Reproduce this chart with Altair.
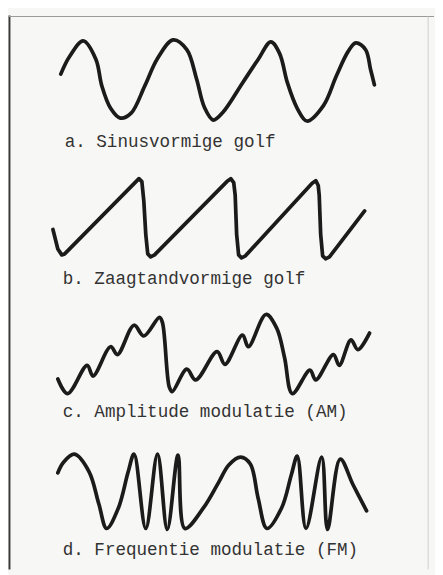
import altair as alt
import pandas as pd

# a. sine wave (picture coordinates)
SINE_X = [61, 70, 84, 97, 103, 112, 122, 133, 147, 160, 176, 190, 200, 208, 217,
          227, 247, 263, 276, 285, 293, 303, 313, 330, 343, 355, 363, 373, 378, 382]
SINE_Y = [68, 50, 34, 53, 80, 103, 113, 108, 80, 52, 33, 43, 73, 102, 115,
          107, 77, 53, 35, 47, 77, 103, 116, 100, 70, 45, 36, 43, 63, 79]

# b. sawtooth wave
SAW_X = [53, 58, 62, 65, 138, 141, 144, 146, 148, 150, 153, 157, 231, 235, 238,
         239.5, 241, 243, 246, 250, 318, 322, 324.5, 325.5, 327, 329, 332, 336, 372]
SAW_Y = [227, 247, 253, 252, 178, 175, 178, 198, 232, 252, 255, 253, 178, 175, 179,
         192, 232, 253, 256, 254, 180, 177, 182, 192, 232, 254, 257, 255, 208]

# c. amplitude modulation
AM_X = [58, 68, 88, 94, 112, 119, 136, 146, 162, 165, 172, 175, 190, 199, 221,
        229, 247, 253, 271, 282, 290, 298, 316, 322, 340, 346, 358, 365, 377]
AM_Y = [380, 395, 366, 377, 347, 355, 325, 336, 317, 322, 388, 393, 370, 381, 352,
        365, 335, 347, 314, 328, 358, 395, 371, 381, 355, 366, 340, 350, 333]

# d. frequency modulation
FM_X = [58, 64, 75, 90, 100, 108, 120, 130, 136, 148, 160, 170, 181, 188, 207,
        223, 233, 245, 255, 263, 272, 287, 297, 303, 312, 328, 334, 347, 360, 374]
FM_Y = [476, 465, 457, 475, 508, 533, 512, 475, 457, 533, 457, 534, 458, 533, 512,
        485, 468, 460, 467, 502, 533, 512, 478, 459, 533, 460, 534, 462, 488, 515]

LABELS = ["a. Sinusvormige golf", "b. Zaagtandvormige golf",
          "c. Amplitude modulatie (AM)", "d. Frequentie modulatie (FM)"]
LABEL_X = [65, 63, 63, 63]
LABEL_Y = [142.5, 282.5, 418.5, 560.5]


def wave_frame(name, xs, ys):
    return pd.DataFrame({"wave": name, "i": list(range(len(xs))), "x": xs, "y": ys})


smooth_df = pd.concat([
    wave_frame("a", SINE_X, SINE_Y),
    wave_frame("c", AM_X, AM_Y),
    wave_frame("d", FM_X, FM_Y),
])
saw_df = wave_frame("b", SAW_X, SAW_Y)
text_df = pd.DataFrame({"label": LABELS, "x": LABEL_X, "y": LABEL_Y})
frame_df = pd.DataFrame({
    "x": [8.5, 8, 437], "x2": [8.5, 443, 437],
    "y": [8, 9, 9], "y2": [575, 9, 575],
    "c": ["#3a3a3a", "#9a9a9a", "#cfcfcf"], "w": [2, 1.2, 1],
})

xs = alt.Scale(domain=[8, 435], nice=False, zero=False)
ys = alt.Scale(domain=[8, 567], nice=False, zero=False, reverse=True)
X = alt.X("x:Q", scale=xs, axis=None)
Y = alt.Y("y:Q", scale=ys, axis=None)

line_style = dict(strokeWidth=3.8, color="#1b1b1b", strokeCap="round", strokeJoin="round")

smooth = alt.Chart(smooth_df).mark_line(interpolate="catmull-rom", **line_style).encode(
    x=X, y=Y, detail="wave:N", order="i:Q")
saw = alt.Chart(saw_df).mark_line(interpolate="linear", **line_style).encode(
    x=X, y=Y, order="i:Q")
text = alt.Chart(text_df).mark_text(
    align="left", baseline="alphabetic", font="Liberation Mono", fontSize=18,
    color="#333333").encode(x=X, y=Y, text="label:N")
frame = alt.Chart(frame_df).mark_rule().encode(
    x=X, y=Y, x2="x2:Q", y2="y2:Q",
    color=alt.Color("c:N", scale=None),
    strokeWidth=alt.StrokeWidth("w:Q", scale=None))

chart = alt.layer(frame, smooth, saw, text).properties(
    width=427, height=559, padding=0, background="#f7f7f5"
).configure_view(stroke=None)

chart.save("out.html", embed_options={"renderer": "svg", "actions": False})
